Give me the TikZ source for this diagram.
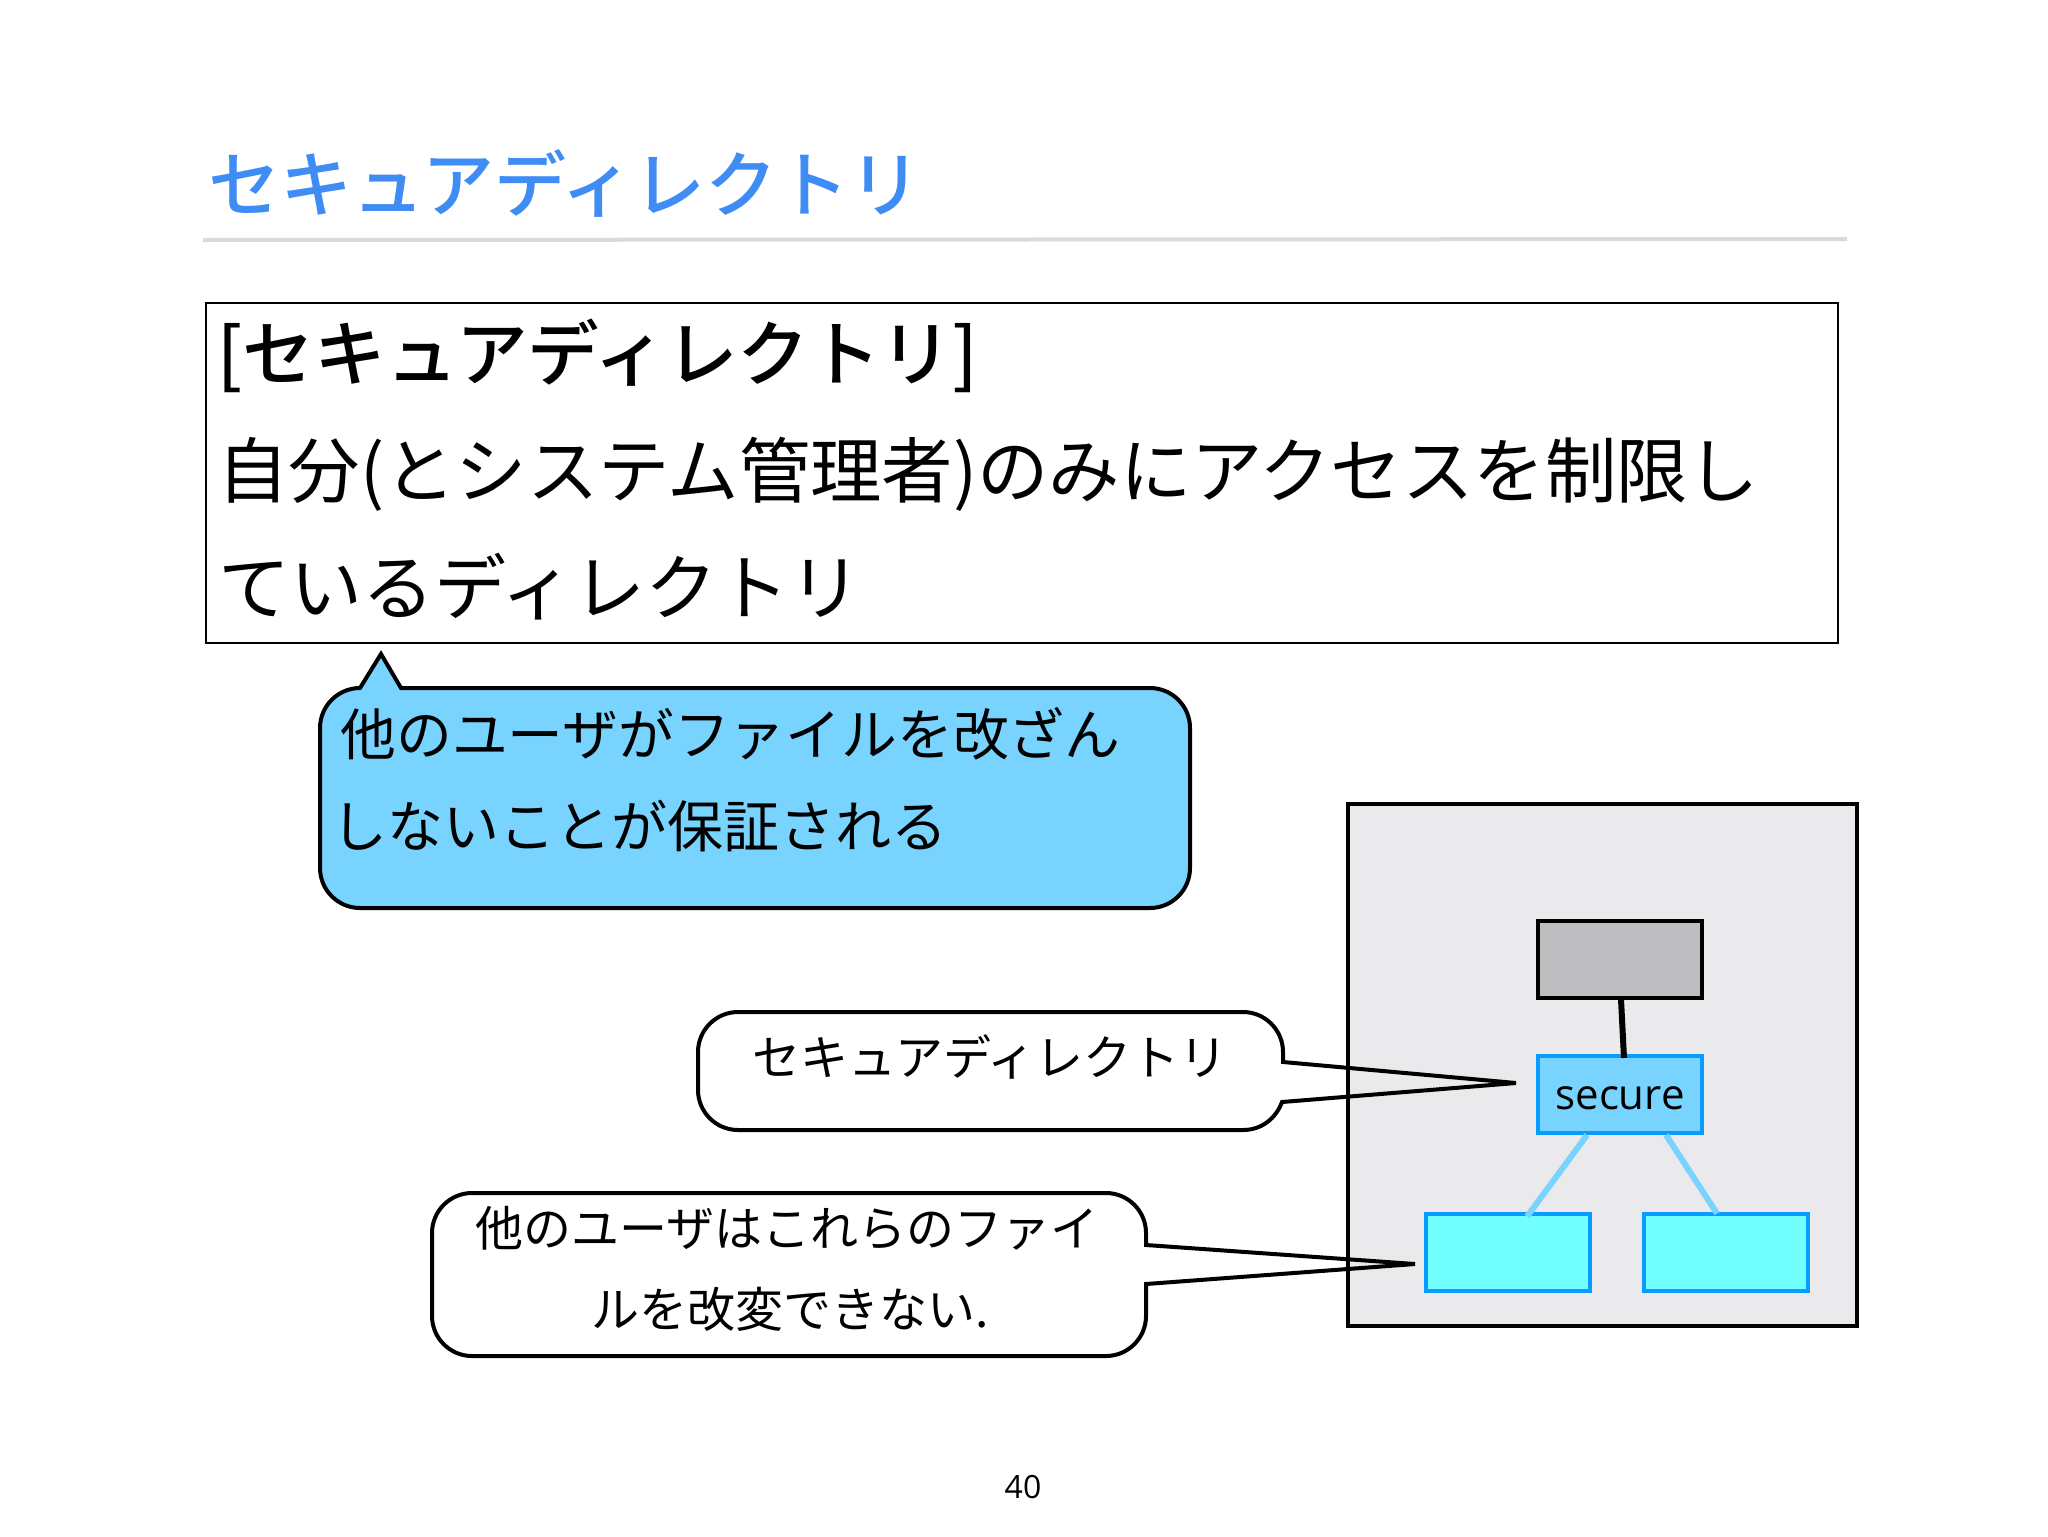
\documentclass[tikz,border=0pt]{standalone}
\usepackage{fontspec}
\setmainfont{Noto Sans CJK JP}
\newfontfamily\latinfont{Open Sans}
\newfontfamily\heavyfont{Noto Sans CJK JP Medium}
\definecolor{titleblue}{HTML}{3F8CF5}
\definecolor{rulegray}{HTML}{DADADA}
\definecolor{bubbleblue}{HTML}{78D4FF}
\definecolor{edgeblue}{HTML}{0A9BFF}
\definecolor{cyanfill}{HTML}{72FFFF}
\definecolor{panelgray}{HTML}{EAEAEC}
\definecolor{boxgray}{HTML}{BEBDBF}
\tikzset{
  label text/.style={inner sep=0pt,anchor=base west},
  center text/.style={inner sep=0pt,anchor=base},
  bubble/.style={draw=black,line width=2pt,line join=miter},
  treebox/.style={draw=edgeblue,line width=2pt,inner sep=0pt,minimum width=82pt,minimum height=38.5pt},
  blueedge/.style={draw=bubbleblue,line width=3pt},
  blackedge/.style={draw=black,line width=3pt}
}
\begin{document}
\begin{tikzpicture}[x=0.5pt,y=-0.5pt]
\useasboundingbox (0,0) rectangle (2048,1536);
% title
\node[label text,text=titleblue,font=\heavyfont\fontsize{36}{36}\selectfont] (title) at (208,211) {セキュアディレクトリ};
\draw[rulegray,line width=2pt] (203,240) -- (1847,239);
% definition box
\node[draw=black,line width=1pt,inner sep=0pt,minimum width=816pt,minimum height=170pt,anchor=north west] (defbox) at (205,302) {};
\node[label text,font=\heavyfont\fontsize{35.8}{35.8}\selectfont] (defa) at (217,380) {[セキュアディレクトリ]};
\node[label text,font=\fontsize{35.7}{35.7}\selectfont] (defb) at (217,497) {自分(とシステム管理者)のみにアクセスを制限し};
\node[label text,font=\fontsize{36}{36}\selectfont] (defc) at (218,614) {ているディレクトリ};
% blue bubble
\path[bubble,fill=bubbleblue] (360,688)
  -- (381,654) -- (401,688) -- (1150,688)
  .. controls (1172,688) and (1190,706) .. (1190,728) -- (1190,868)
  .. controls (1190,890) and (1172,908) .. (1150,908) -- (360,908)
  .. controls (338,908) and (320,890) .. (320,868) -- (320,728)
  .. controls (320,706) and (338,688) .. (360,688) -- cycle;
\node[label text,font=\fontsize{27.9}{27.9}\selectfont] (bluea) at (340,755) {他のユーザがファイルを改ざん};
\node[label text,font=\fontsize{28}{28}\selectfont] (blueb) at (331,847) {しないことが保証される};
% panel and tree
\node[draw=black,fill=panelgray,line width=2.2pt,inner sep=0pt,minimum width=254.5pt,minimum height=261pt,anchor=north west] (panel) at (1346,802) {};
\node[treebox,draw=black,fill=boxgray] (top) at (1620,959) {};
\node[treebox,fill=bubbleblue] (secure) at (1620,1094.5) {};
\node[center text,font=\latinfont\fontsize{21}{21}\selectfont] (securelabel) at (1620,1109) {secure};
\node[treebox,fill=cyanfill] (left) at (1508,1252) {};
\node[treebox,fill=cyanfill] (right) at (1726,1252) {};
\draw[blackedge] ([xshift=0.5pt]top.south) -- ([xshift=2pt,yshift=-2pt]secure.north);
\draw[blueedge] ([xshift=-16.5pt]secure.south) -- ([xshift=9.5pt,yshift=-2.5pt]left.north);
\draw[blueedge] ([xshift=23pt]secure.south) -- ([xshift=-4.5pt,yshift=-1pt]right.north);
% white bubbles
\path[bubble] (738,1012) -- (1243,1012)
  .. controls (1265,1012) and (1283,1030) .. (1283,1052) -- (1283,1062)
  -- (1516,1083) -- (1282,1102)
  .. controls (1276,1118) and (1262,1130) .. (1243,1130) -- (738,1130)
  .. controls (716,1130) and (698,1112) .. (698,1090) -- (698,1052)
  .. controls (698,1030) and (716,1012) .. (738,1012) -- cycle;
\node[center text,font=\fontsize{24}{24}\selectfont] (bubbleatext) at (990,1075) {セキュアディレクトリ};
\path[bubble] (472,1193) -- (1106,1193)
  .. controls (1128,1193) and (1146,1211) .. (1146,1233) -- (1146,1245)
  -- (1415,1264) -- (1146,1284) -- (1146,1316)
  .. controls (1146,1338) and (1128,1356) .. (1106,1356) -- (472,1356)
  .. controls (450,1356) and (432,1338) .. (432,1316) -- (432,1233)
  .. controls (432,1211) and (450,1193) .. (472,1193) -- cycle;
\node[center text,font=\fontsize{24}{24}\selectfont] (bubblebtexta) at (787,1246) {他のユーザはこれらのファイ};
\node[center text,font=\fontsize{24}{24}\selectfont] (bubblebtextb) at (790,1327) {ルを改変できない.};
% page number
\node[center text,font=\latinfont\fontsize{16}{16}\selectfont] (page) at (1023,1498) {40};
\end{tikzpicture}
\end{document}
